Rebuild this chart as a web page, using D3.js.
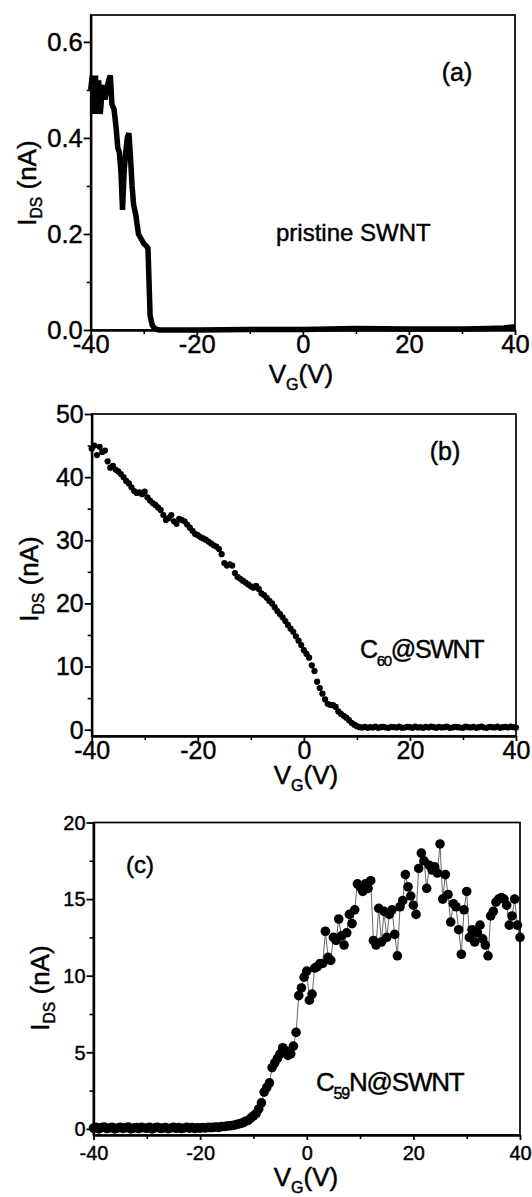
<!DOCTYPE html>
<html><head><meta charset="utf-8">
<script src="https://cdn.jsdelivr.net/npm/d3@7"></script>
<style>
body{margin:0;background:#fff}
svg{display:block}
text{font-family:"Liberation Sans",Arial,sans-serif;fill:#000;stroke:#000;stroke-width:0.45px}
</style>
</head><body>
<svg id="chart" width="532" height="1197"></svg>
<script>
// ---------- axes ----------
const xTicks = [-40, -20, 0, 20, 40];
const xMinor = [-30, -10, 10, 30];
const yTicksA = [0, 0.2, 0.4, 0.6];
const yMinorA = [0.1, 0.3, 0.5];
const yTicksB = [0, 10, 20, 30, 40, 50];
const yMinorB = [5, 15, 25, 35, 45];
const yTicksC = [0, 5, 10, 15, 20];
const yMinorC = [2.5, 7.5, 12.5, 17.5];

// ---------- panel (a): pristine SWNT ----------
const vgA = [-40,-39.7,-39.4,-39.1,-38.8,-38.5,-38.2,-37.9,-37.6,-37.3,-37.0,-36.6,-36.3,-36.0,-35.6,-35.2,-34.9,-34.6,-34.3,-34.0,-33.7,-33.4,-33.1,-32.8,-32.5,-32.2,-31.9,-31.5,-31.0,-30.5,-30.0,-29.5,-29.2,-29.0,-28.8,-28.4,-28.0,-27.5,-27.0,-20,-10,0,5,10,20,30,35,38,40];
const iA = [0.50,0.53,0.45,0.53,0.45,0.52,0.45,0.49,0.51,0.48,0.50,0.52,0.53,0.47,0.46,0.42,0.38,0.37,0.33,0.25,0.33,0.37,0.40,0.41,0.36,0.30,0.26,0.24,0.20,0.19,0.18,0.175,0.17,0.10,0.03,0.01,0.004,0.001,0.0,0.0,0.001,0.001,0.002,0.003,0.002,0.002,0.003,0.004,0.007];

// ---------- gate sweep used in (b) and (c) ----------
const vgSweep = [-40,-39.5,-39,-38.5,-38,-37.5,-37,-36.5,-36,-35.5,-35,-34.5,-34,-33.5,-33,-32.5,-32,-31.5,-31,-30.5,
-30,-29.5,-29,-28.5,-28,-27.5,-27,-26.5,-26,-25.5,-25,-24.5,-24,-23.5,-23,-22.5,-22,-21.5,-21,-20.5,
-20,-19.5,-19,-18.5,-18,-17.5,-17,-16.5,-16,-15.5,-15,-14.5,-14,-13.5,-13,-12.5,-12,-11.5,-11,-10.5,
-10,-9.5,-9,-8.5,-8,-7.5,-7,-6.5,-6,-5.5,-5,-4.5,-4,-3.5,-3,-2.5,-2,-1.5,-1,-0.5,
0,0.5,1,1.5,2,2.5,3,3.5,4,4.5,5,5.5,6,6.5,7,7.5,8,8.5,9,9.5,
10,10.5,11,11.5,12,12.5,13,13.5,14,14.5,15,15.5,16,16.5,17,17.5,18,18.5,19,19.5,
20,20.5,21,21.5,22,22.5,23,23.5,24,24.5,25,25.5,26,26.5,27,27.5,28,28.5,29,29.5,
30,30.5,31,31.5,32,32.5,33,33.5,34,34.5,35,35.5,36,36.5,37,37.5,38,38.5,39,39.5,40];

// ---------- panel (b): C60@SWNT ----------
const iB = [44.5,45.0,43.5,44.8,44.0,44.2,42.5,41.5,41.8,41.2,40.9,40.5,40.0,39.4,39.0,38.4,37.8,37.5,37.6,37.3,
37.7,36.8,36.3,35.9,35.6,35.2,34.8,34.0,33.2,33.5,34.0,33.0,32.6,33.4,33.2,33.0,32.5,32.0,31.5,31.0,
30.8,30.5,30.3,30.1,29.8,29.5,29.2,29.0,28.6,27.8,26.4,26.0,26.2,26.0,24.8,24.2,23.9,23.6,23.3,23.0,
22.7,22.5,22.8,22.3,21.6,21.3,20.9,20.4,20.0,19.4,18.8,18.3,17.8,17.2,16.6,16.0,15.5,14.8,14.1,13.4,
12.6,12.0,11.4,10.2,9.3,7.6,6.6,5.7,4.8,4.1,3.9,3.9,3.6,2.9,2.5,2.2,1.9,1.5,1.1,0.8,
0.55,0.4,0.35,0.45,0.3,0.4,0.35,0.5,0.3,0.4,0.45,0.35,0.3,0.45,0.4,0.35,0.5,0.3,0.35,0.45,
0.4,0.3,0.5,0.35,0.4,0.3,0.45,0.35,0.5,0.4,0.3,0.45,0.35,0.4,0.5,0.3,0.35,0.45,0.4,0.35,
0.3,0.5,0.4,0.35,0.45,0.3,0.4,0.5,0.35,0.3,0.45,0.4,0.35,0.5,0.3,0.4,0.45,0.35,0.5,0.4,0.35];

// ---------- panel (c): C59N@SWNT ----------
const iC = [0.05,0.1,0.0,0.08,0.12,0.02,0.06,0.1,0.0,0.05,0.1,0.03,0.07,0.12,0.0,0.05,0.09,0.02,0.1,0.06,
0.04,0.1,0.0,0.07,0.11,0.03,0.05,0.09,0.01,0.06,0.1,0.04,0.08,0.02,0.06,0.1,0.05,0.08,0.03,0.07,
0.05,0.08,0.06,0.1,0.08,0.1,0.12,0.1,0.15,0.15,0.18,0.2,0.22,0.25,0.3,0.35,0.4,0.5,0.55,0.7,
0.85,1.0,1.3,1.7,2.4,2.7,3.0,4.0,4.3,4.6,4.9,5.3,5.1,4.8,4.9,5.4,6.3,8.7,9.2,9.9,
10.3,8.4,8.8,10.5,10.6,10.8,10.8,12.9,11.2,11.0,12.5,12.3,13.7,12.6,12.0,12.8,14.0,13.4,14.3,16.0,
15.8,15.5,16.0,15.7,16.2,12.3,12.0,14.4,12.2,14.2,12.5,14.0,14.3,12.7,11.3,14.5,14.9,16.6,15.8,15.2,
14.6,14.0,17.0,18.0,17.5,15.7,17.2,16.9,17.1,16.7,18.6,15.0,16.6,15.3,13.5,14.7,14.5,13.0,11.4,14.3,
15.5,12.5,13.0,12.2,12.8,13.3,12.4,12.0,11.3,13.9,14.2,14.8,15.0,15.1,15.0,14.6,13.3,13.9,15.0,13.3,12.5];

const svg = d3.select("#chart");

function condense(g, sx, side) {
  g.selectAll(".tick text").each(function () {
    const t = d3.select(this);
    if (side === "left") {
      const x = +t.attr("x");
      t.attr("x", 0).attr("transform", `translate(${x},0) scale(${sx},1)`);
    } else {
      const y = +t.attr("y");
      t.attr("y", 0).attr("transform", `translate(0,${y}) scale(${sx},1)`);
    }
  });
}

function richText(parent, x, y, parts, size, anchor, rotate, spacing) {
  const t = parent.append("text")
    .attr("font-size", size)
    .attr("text-anchor", anchor || "start");
  if (spacing) t.attr("letter-spacing", spacing);
  if (rotate) t.attr("transform", `translate(${x},${y}) rotate(-90)`);
  else t.attr("x", x).attr("y", y);
  let shift = 0;
  parts.forEach(p => {
    const ts = t.append("tspan").text(p.t);
    if (p.sub) {
      ts.attr("font-size", p.size).attr("dy", p.dy - shift);
      shift = p.dy;
    } else if (shift) {
      ts.attr("dy", -shift);
      shift = 0;
    }
  });
  return t;
}

function panel(cfg) {
  const g = svg.append("g");
  const x = d3.scaleLinear([-40, 40], [cfg.left, cfg.right]);
  const y = d3.scaleLinear(cfg.yDomain, [cfg.bottom, cfg.top]);

  // frame
  g.append("rect")
    .attr("x", cfg.left).attr("y", cfg.top)
    .attr("width", cfg.right - cfg.left).attr("height", cfg.bottom - cfg.top)
    .attr("fill", "none").attr("stroke", "#000").attr("stroke-width", 1.7);

  // data
  cfg.draw(g, x, y);

  // left axis
  const la = g.append("g").attr("transform", `translate(${cfg.left},0)`)
    .call(d3.axisLeft(y).tickValues(cfg.yTicks).tickSize(7).tickSizeOuter(0)
      .tickPadding(cfg.yPad).tickFormat(cfg.yFmt));
  la.attr("font-size", cfg.tickFont).attr("font-family", null).attr("color", "#000");
  la.select(".domain").attr("stroke-width", 2.4);
  la.selectAll(".tick line").attr("stroke-width", 1.8);
  condense(la, cfg.sx, "left");
  g.append("g").attr("transform", `translate(${cfg.left},0)`)
    .call(d3.axisLeft(y).tickValues(cfg.yMinor).tickSize(4).tickSizeOuter(0).tickFormat(""))
    .call(s => s.select(".domain").remove())
    .selectAll("line").attr("stroke-width", 1.6);

  // bottom axis
  const ba = g.append("g").attr("transform", `translate(0,${cfg.bottom})`)
    .call(d3.axisBottom(x).tickValues(xTicks).tickSize(5).tickSizeOuter(0)
      .tickPadding(cfg.xPad).tickFormat(d => String(d)));
  ba.attr("font-size", cfg.tickFont).attr("font-family", null).attr("color", "#000");
  ba.select(".domain").attr("stroke-width", 2.4);
  ba.selectAll(".tick line").attr("stroke-width", 1.8);
  condense(ba, cfg.sx, "bottom");
  g.append("g").attr("transform", `translate(0,${cfg.bottom})`)
    .call(d3.axisBottom(x).tickValues(xMinor).tickSize(4).tickSizeOuter(0).tickFormat(""))
    .call(s => s.select(".domain").remove())
    .selectAll("line").attr("stroke-width", 1.6);

  // axis titles
  richText(g, cfg.xTitleX, cfg.xTitleY,
    [{t: "V"}, {t: "G", sub: true, size: cfg.titleFont * 0.62, dy: 7}, {t: "(V)"}],
    cfg.titleFont, "middle");
  richText(g, cfg.yTitleX, cfg.yTitleY,
    [{t: "I"}, {t: "DS", sub: true, size: cfg.titleFont * 0.6, dy: 6}, {t: " (nA)"}],
    cfg.titleFont, "middle", true);

  cfg.notes(g);
}

// (a)
panel({
  left: 90.7, right: 515, top: 15, bottom: 330, yDomain: [0, 0.656],
  yTicks: yTicksA, yMinor: yMinorA, yFmt: d3.format(".1f"),
  tickFont: 26, sx: 0.98, yPad: 1, xPad: 0, titleFont: 26,
  xTitleX: 301, xTitleY: 383, yTitleX: 36, yTitleY: 183,
  draw: (g, x, y) => {
    const pts = vgA.map((v, i) => [v, iA[i]]);
    g.append("path").datum(pts)
      .attr("d", d3.line().x(d => x(d[0])).y(d => y(d[1])))
      .attr("fill", "none").attr("stroke", "#000").attr("stroke-width", 5.5)
      .attr("stroke-linejoin", "miter");
  },
  notes: g => {
    g.append("text").attr("x", 457).attr("y", 81).attr("font-size", 25)
      .attr("text-anchor", "middle").text("(a)");
    g.append("text").attr("x", 276).attr("y", 241).attr("font-size", 24).text("pristine SWNT");
  }
});

// (b)
panel({
  left: 91.7, right: 516, top: 414, bottom: 736, yDomain: [-1, 50],
  yTicks: yTicksB, yMinor: yMinorB, yFmt: d3.format("d"),
  tickFont: 26, sx: 0.96, yPad: 1, xPad: 0, titleFont: 26,
  xTitleX: 306, xTitleY: 784, yTitleX: 38, yTitleY: 579,
  draw: (g, x, y) => {
    const pts = vgSweep.map((v, i) => [v, iB[i]]);
    g.selectAll("circle.b").data(pts).join("circle")
      .attr("cx", d => x(d[0])).attr("cy", d => y(d[1])).attr("r", 3.1).attr("fill", "#000");
  },
  notes: g => {
    g.append("text").attr("x", 445).attr("y", 460).attr("font-size", 25)
      .attr("text-anchor", "middle").text("(b)");
    richText(g, 360, 658,
      [{t: "C"}, {t: "60", sub: true, size: 15, dy: 8}, {t: "@SWNT"}], 25, "start", false, -1.3);
  }
});

// (c)
panel({
  left: 93.5, right: 520, top: 822.5, bottom: 1135, yDomain: [-0.4, 20],
  yTicks: yTicksC, yMinor: yMinorC, yFmt: d3.format("d"),
  tickFont: 21, sx: 0.95, yPad: 1, xPad: 5, titleFont: 26,
  xTitleX: 306, xTitleY: 1186, yTitleX: 49, yTitleY: 988,
  draw: (g, x, y) => {
    const pts = vgSweep.map((v, i) => [v, iC[i]]);
    g.append("path").datum(pts)
      .attr("d", d3.line().x(d => x(d[0])).y(d => y(d[1])))
      .attr("fill", "none").attr("stroke", "#555").attr("stroke-width", 0.9);
    g.selectAll("circle.c").data(pts).join("circle")
      .attr("cx", d => x(d[0])).attr("cy", d => y(d[1])).attr("r", 4.8).attr("fill", "#000");
  },
  notes: g => {
    g.append("text").attr("x", 140).attr("y", 873).attr("font-size", 24)
      .attr("text-anchor", "middle").text("(c)");
    richText(g, 316, 1091,
      [{t: "C"}, {t: "59", sub: true, size: 16, dy: 8}, {t: "N@SWNT"}], 26, "start", false, -1.2);
  }
});
</script>
</body></html>
